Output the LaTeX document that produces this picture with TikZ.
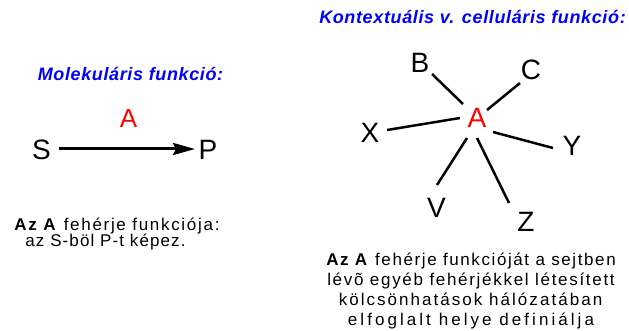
\documentclass[tikz,border=0pt]{standalone}
\usepackage{fontspec}
\setmainfont{Liberation Sans}
\usetikzlibrary{arrows.meta,calc}
\definecolor{tblue}{RGB}{0,0,255}
\definecolor{pred}{RGB}{255,0,0}
\tikzset{
  lbl/.style={anchor=base, inner sep=0pt, font=\fontsize{28}{30}\selectfont},
  prot/.style={lbl, text=pred},
  ttl/.style={anchor=base, inner sep=0pt, text=tblue, font=\fontsize{18}{20}\selectfont\addfontfeatures{LetterSpace=3.5}\bfseries\itshape},
  desc/.style={anchor=base, inner sep=0pt, font=\fontsize{17}{20}\selectfont},
  link/.style={line width=2.5pt},
  reaction/.style={line width=3pt, -{Stealth[length=22pt,width=12pt,inset=3pt]}},
}
\begin{document}
\begin{tikzpicture}[x=1pt,y=-1pt]
\useasboundingbox (0,0) rectangle (629,331);
% left: molecular function
\node[ttl] (lt) at (130.5,81) {Molekuláris funkció:};
\node[lbl] (S) at (41.5,160) {S};
\node[lbl] (P) at (208,160) {P};
\node[prot, font=\fontsize{26}{28}\selectfont] (A1) at (128.5,128) {A};
\draw[reaction] ($(S.base)+(17.5,-11)$) -- ($(P.base)+(-13,-11)$);
\node[desc] (l1) at (117,230) {\addfontfeatures{LetterSpace=10}\textbf{Az A} fehérje funkciója:};
\node[desc] (l2) at (105.5,247) {\addfontfeatures{LetterSpace=6.5}az S-böl P-t képez.};
% right: contextual function
\node[ttl] (rt) at (472.5,24) {Kontextuális v. celluláris funkció:};
\node[prot] (A) at (477,128) {A};
\node[lbl] (B) at (420,73) {B};
\node[lbl] (C) at (531,79.5) {C};
\node[lbl] (X) at (370,143) {X};
\node[lbl] (Y) at (572,156) {Y};
\node[lbl] (V) at (436.5,218) {V};
\node[lbl] (Z) at (526,232) {Z};
\draw[link] ($(B.base)+(12,1)$) -- ($(A.base)+(-14,-24)$);
\draw[link] ($(C.base)+(-11,3.5)$) -- ($(A.base)+(10,-18)$);
\draw[link] ($(X.base)+(17,-13)$) -- ($(A.base)+(-17,-10)$);
\draw[link] ($(A.base)+(16,4)$) -- ($(Y.base)+(-19,-8)$);
\draw[link] ($(A.base)+(-10,10)$) -- ($(V.base)+(0.5,-33)$);
\draw[link] ($(A.base)+(0,10)$) -- ($(Z.base)+(-17,-29)$);
\node[desc] (r1) at (471,265) {\addfontfeatures{LetterSpace=9.4}\textbf{Az A} fehérje funkcióját a sejtben};
\node[desc] (r2) at (471,285) {\addfontfeatures{LetterSpace=10}lévõ egyéb fehérjékkel létesített};
\node[desc] (r3) at (470.5,305) {\addfontfeatures{LetterSpace=12}kölcsönhatások hálózatában};
\node[desc] (r4) at (471,325) {\addfontfeatures{LetterSpace=18}elfoglalt helye definiálja};
\end{tikzpicture}
\end{document}
